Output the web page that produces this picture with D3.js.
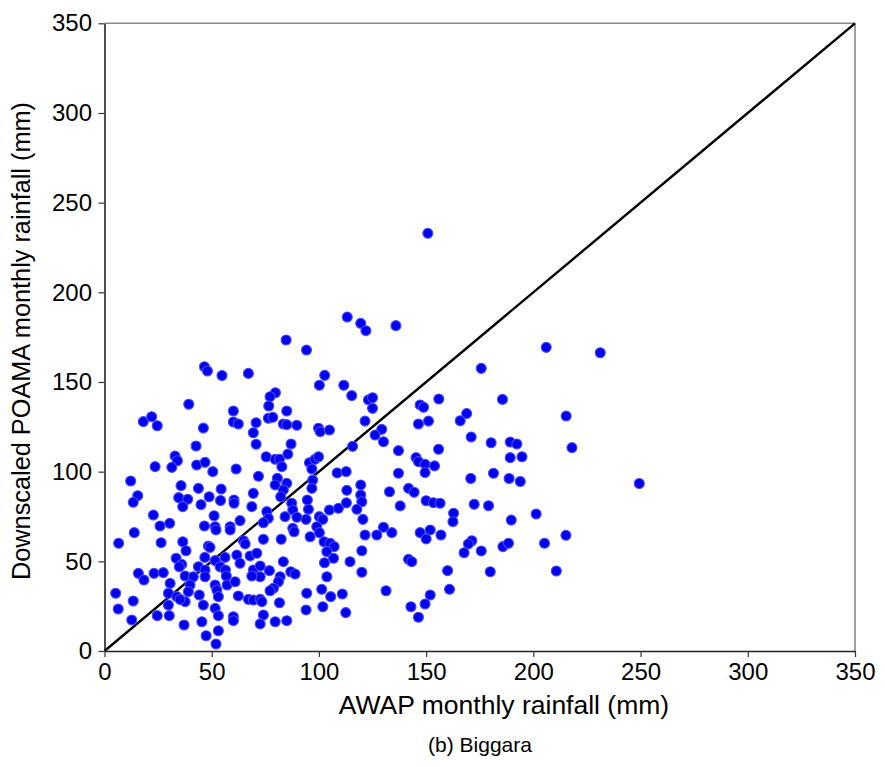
<!DOCTYPE html>
<html>
<head>
<meta charset="utf-8">
<script src="https://cdn.jsdelivr.net/npm/d3@7"></script>
<style>
  html, body { margin: 0; padding: 0; background: #fff; }
  svg { display: block; font-family: "Liberation Sans", Arial, sans-serif; }
</style>
</head>
<body>
<svg id="chart" width="885" height="767"></svg>
<script>
// Monthly rainfall pairs (mm): AWAP observed vs downscaled POAMA
const awap = [
  150.8, 46.6, 48.0, 54.8, 39.3, 18.1, 22.0, 24.6, 46.1, 42.7, 32.9, 34.0, 23.6, 31.4, 43.0, 46.9,
  50.5, 12.2, 35.7, 43.8, 54.4, 15.5, 13.4, 34.6, 38.8, 36.5, 45.0, 48.8, 54.1, 22.8, 25.9, 30.4,
  51.1, 46.6, 51.6, 52.0, 13.9, 6.6, 26.4, 36.5, 38.0, 48.4, 49.2, 33.4, 36.0, 34.9, 46.8, 51.6,
  53.9, 43.8, 46.9, 56.4, 56.8, 15.8, 18.4, 23.1, 27.4, 30.6, 29.8, 33.7, 37.6, 41.4, 39.9, 46.9,
  51.6, 52.4, 53.1, 57.2, 39.1, 5.2, 13.4, 6.4, 37.6, 35.2, 44.2, 29.8, 46.1, 51.6, 53.1, 24.6,
  30.2, 12.7, 37.1, 45.4, 53.1, 47.4, 52.0,
  113.2, 84.7, 94.2, 67.1, 102.7, 100.2, 111.6, 79.7, 77.2, 76.6, 60.1, 60.1, 62.4, 85.0, 70.7, 69.4,
  70.7, 76.4, 78.5, 83.4, 85.0, 89.7, 99.8, 100.6, 104.9, 87.0, 75.4, 79.6, 81.6, 82.7, 80.6, 85.5,
  61.4, 71.8, 95.6, 98.2, 99.8, 96.7, 108.5, 112.7, 115.7,
  85.0, 79.6, 83.4, 82.2, 97.1, 96.7, 113.0, 60.4, 60.4, 69.4, 68.7, 87.3, 87.8, 94.6, 95.1, 94.0,
  75.7, 76.4, 74.1, 84.2, 89.7, 104.9, 109.1, 112.8, 100.2, 101.8, 63.2, 58.6, 58.6, 87.8, 88.4, 99.0,
  100.2, 95.9, 74.1, 82.4, 64.8, 65.6, 102.4, 105.2, 107.1, 103.7, 106.8, 56.2, 61.7, 63.2, 67.9, 71.0,
  69.4, 83.4, 102.6, 72.6, 76.9, 72.6, 68.7, 81.9, 81.1, 78.8, 77.2, 86.9, 88.9, 60.9, 103.7, 62.4,
  67.1, 69.4, 72.6, 73.4, 81.6, 94.3, 101.3, 105.5, 110.9, 74.1, 72.6, 60.1, 60.1, 79.6, 85.0, 94.0,
  101.8, 112.5,
  119.5, 121.9, 135.9, 115.3, 123.1, 125.0, 125.0, 147.2, 148.8, 155.9, 121.5, 129.3, 126.2, 130.1, 146.4, 151.1,
  165.9, 168.9, 171.0, 137.1, 155.8, 145.3, 146.4, 149.5, 153.9, 149.5, 137.1,
  119.5, 119.5, 120.0, 117.7, 120.5, 132.9, 141.8, 144.4, 137.9, 150.0, 153.4, 156.5, 162.8, 162.5, 172.4, 121.5,
  127.0, 130.1, 134.0, 147.2, 151.9, 150.0, 156.9, 120.0, 114.5, 120.0, 141.8, 143.3, 160.0, 160.9, 131.3, 151.9,
  149.5, 142.9, 146.4,
  206.0, 231.2, 175.7, 185.6, 215.3, 180.3, 189.2, 192.3, 189.2, 194.7, 218.0, 170.8, 181.4, 188.7, 193.9, 249.4,
  179.1, 189.7, 201.3, 171.3, 169.7, 167.7, 175.7, 185.8, 188.4, 205.2, 215.2, 179.9, 210.7
];
const poama = [
  232.9, 158.5, 156.1, 153.6, 137.6, 127.9, 130.6, 125.6, 124.3, 114.3, 108.7, 106.1, 102.8, 102.4, 103.7, 105.2,
  100.0, 94.8, 92.2, 90.7, 90.3, 86.6, 82.9, 85.5, 84.6, 80.5, 81.6, 86.0, 83.9, 75.8, 69.7, 71.2,
  75.4, 69.7, 69.3, 67.5, 66.0, 60.1, 60.4, 60.9, 55.9, 58.5, 57.8, 51.7, 48.3, 47.0, 52.2, 50.4,
  47.0, 47.0, 45.2, 45.2, 41.8, 43.3, 39.6, 43.3, 43.7, 37.7, 32.2, 30.3, 41.8, 41.4, 36.8, 41.4,
  36.8, 34.0, 30.3, 36.8, 33.1, 32.2, 27.9, 23.4, 27.5, 28.8, 31.2, 25.6, 25.6, 23.8, 19.7, 19.7,
  19.7, 17.3, 14.5, 16.3, 11.3, 8.5, 3.9,
  186.2, 173.4, 167.8, 154.8, 153.7, 148.2, 148.2, 144.0, 141.8, 136.6, 133.8, 127.7, 126.6, 133.8, 127.3, 121.7,
  115.3, 129.8, 130.3, 126.6, 126.2, 125.9, 124.2, 122.3, 123.2, 115.4, 108.3, 106.9, 106.9, 102.8, 96.3, 109.8,
  101.5, 97.4, 105.0, 106.9, 108.3, 101.5, 99.3, 100.0, 114.1,
  93.5, 92.6, 89.8, 86.0, 95.3, 90.7, 89.6, 84.2, 82.4, 87.9, 80.5, 82.4, 78.6, 84.2, 79.0, 73.4,
  77.7, 74.0, 71.5, 74.9, 74.6, 78.6, 79.6, 82.6, 74.9, 73.4, 72.7, 69.3, 67.5, 68.4, 66.5, 69.3,
  66.0, 63.7, 62.3, 62.3, 61.5, 59.7, 60.9, 60.1, 58.2, 55.4, 51.7, 52.2, 53.5, 48.9, 53.0, 54.5,
  45.2, 49.8, 49.2, 47.4, 44.8, 41.4, 41.8, 41.4, 38.6, 35.0, 33.6, 44.2, 42.9, 38.6, 41.4, 30.7,
  28.8, 28.4, 28.8, 27.5, 26.9, 32.2, 34.4, 30.3, 31.8, 20.1, 15.1, 19.1, 16.9, 16.3, 16.9, 22.9,
  24.7, 21.4,
  182.7, 178.6, 181.4, 142.4, 140.0, 141.2, 135.3, 137.2, 135.9, 140.5, 128.2, 123.6, 120.4, 116.7, 126.6, 128.2,
  128.4, 132.4, 119.3, 111.7, 112.5, 107.8, 105.6, 104.1, 103.2, 99.5, 99.1,
  92.6, 87.0, 83.2, 79.0, 73.4, 88.8, 90.7, 88.5, 80.9, 83.8, 82.7, 82.4, 76.8, 72.1, 81.8, 64.7,
  64.7, 69.0, 66.0, 66.0, 67.5, 62.5, 64.7, 55.9, 49.8, 43.9, 51.1, 49.8, 44.8, 34.4, 33.6, 31.2,
  26.2, 24.7, 18.8,
  169.3, 166.3, 157.6, 140.3, 131.0, 116.1, 116.5, 115.4, 107.8, 108.3, 113.4, 96.2, 99.1, 96.2, 94.5, 93.4,
  81.0, 73.0, 76.4, 61.5, 59.7, 54.8, 55.8, 58.2, 60.1, 60.1, 64.5, 44.2, 44.6
];
const tickValues = [0, 50, 100, 150, 200, 250, 300, 350];
const xTitle = "AWAP monthly rainfall (mm)";
const yTitle = "Downscaled POAMA monthly rainfall (mm)";
const caption = "(b) Biggara";

const points = awap.map((a, i) => ({ a, p: poama[i] }));

const svg = d3.select("#chart");
const plotLeft = 104.5, plotRight = 855, plotTop = 23.3, plotBottom = 651;

const x = d3.scaleLinear().domain([0, 350]).range([plotLeft, plotRight]);
const y = d3.scaleLinear().domain([0, 350]).range([plotBottom, plotTop]);

// frame: top and right edges in grey
svg.append("line").attr("x1", plotLeft).attr("x2", plotRight).attr("y1", plotTop).attr("y2", plotTop)
  .attr("stroke", "#8a8a8a").attr("stroke-width", 1.6);
svg.append("line").attr("x1", plotRight).attr("x2", plotRight).attr("y1", plotTop).attr("y2", plotBottom)
  .attr("stroke", "#8a8a8a").attr("stroke-width", 1.6);

// 1:1 reference line
svg.append("line")
  .attr("x1", x(0)).attr("y1", y(0)).attr("x2", x(350)).attr("y2", y(350))
  .attr("stroke", "#000").attr("stroke-width", 2.4);

// scatter points
svg.append("g").selectAll("circle").data(points).join("circle")
  .attr("cx", d => x(d.a)).attr("cy", d => y(d.p)).attr("r", 5)
  .attr("fill", "#0202ee").attr("stroke", "#4a4aff").attr("stroke-width", 1.1);

// axes
const xAxis = svg.append("g").attr("transform", `translate(0,${plotBottom})`)
  .call(d3.axisBottom(x).tickValues(tickValues).tickSize(6).tickPadding(6).tickSizeOuter(0));
const yAxis = svg.append("g").attr("transform", `translate(${plotLeft},0)`)
  .call(d3.axisLeft(y).tickValues(tickValues).tickSize(6).tickPadding(6.5).tickSizeOuter(0));

[xAxis, yAxis].forEach(g => {
  g.select(".domain").attr("stroke", "#222").attr("stroke-width", 1.6);
  g.selectAll(".tick line").attr("stroke", "#333").attr("stroke-width", 1.2);
  g.selectAll(".tick text").attr("fill", "#000").style("font-size", "24px")
    .style("font-family", "'Liberation Sans', Arial, sans-serif");
});

// titles
svg.append("text").attr("x", 504).attr("y", 714).attr("text-anchor", "middle")
  .style("font-size", "26.5px").attr("fill", "#000").text(xTitle);
svg.append("text").attr("transform", "translate(30,341) rotate(-90)").attr("text-anchor", "middle")
  .style("font-size", "25.3px").attr("fill", "#000").text(yTitle);
svg.append("text").attr("x", 480).attr("y", 752).attr("text-anchor", "middle")
  .style("font-size", "21px").attr("fill", "#000").text(caption);
</script>
</body>
</html>
